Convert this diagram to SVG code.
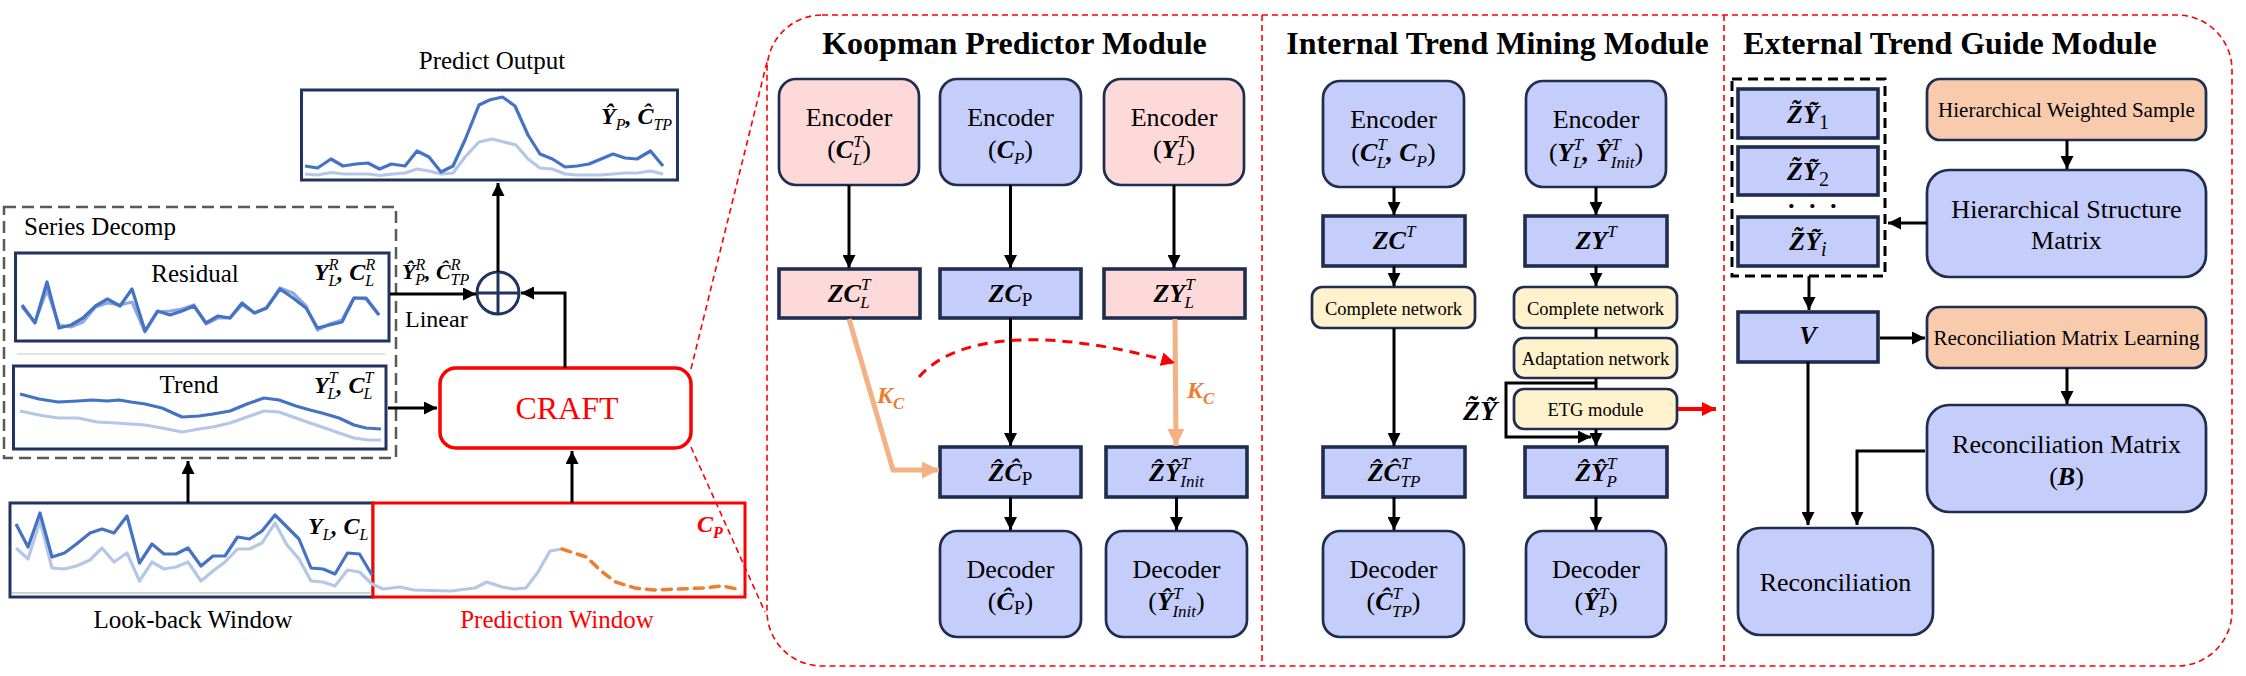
<svg xmlns="http://www.w3.org/2000/svg" width="2246" height="676" viewBox="0 0 2246 676">
<defs>
<style>
text{font-family:"Liberation Serif","Times New Roman","DejaVu Serif",serif;fill:#000}
.f24{font-size:24px}.f25{font-size:25px}.f26{font-size:26px}.f18{font-size:18.5px}.f21{font-size:21px}.f22{font-size:22px}
.title{font-size:32px;font-weight:bold}
.bi{font-weight:bold;font-style:italic}
.it{font-style:italic}
.s{font-size:17px}
.s15{font-size:16px}
.pink{fill:#FDD9D9;stroke:#1F2D50;stroke-width:2.7}
.blue{fill:#C5CDFB;stroke:#1F2D50;stroke-width:2.7}
.pinkt{fill:#FDD9D9;stroke:#1F2D50;stroke-width:3.6}
.bluet{fill:#C5CDFB;stroke:#1F2D50;stroke-width:3.6}
.yel{fill:#FFF2CC;stroke:#1F2D50;stroke-width:2.7}
.peach{fill:#F8CBAD;stroke:#1F2D50;stroke-width:2.7}
.ln{fill:none;stroke:#000;stroke-width:3}
.arr{marker-end:url(#ah)}
.win{fill:#fff;stroke:#1F3560;stroke-width:3}
.dk{fill:none;stroke:#4472C4;stroke-width:3.2;stroke-linejoin:round}
.lt{fill:none;stroke:#B4C7E7;stroke-width:3.2;stroke-linejoin:round}
.md{fill:none;stroke:#8FAADC;stroke-width:3.2;stroke-linejoin:round}
.rdash{fill:none;stroke:#FF0000;stroke-width:1.6;stroke-dasharray:6 4}
.red{fill:#FF0000}
.org{fill:#ED7D31}
</style>
<marker id="ah" viewBox="0 0 10 10" refX="10" refY="5" markerUnits="userSpaceOnUse" markerWidth="13" markerHeight="13" orient="auto"><path d="M0,0 L10,5 L0,10 z" fill="#000"/></marker>
<marker id="aho" viewBox="0 0 10 10" refX="10" refY="5" markerUnits="userSpaceOnUse" markerWidth="17" markerHeight="17" orient="auto"><path d="M0,0 L10,5 L0,10 z" fill="#F4B183"/></marker>
<marker id="ahr" viewBox="0 0 10 10" refX="10" refY="5" markerUnits="userSpaceOnUse" markerWidth="14" markerHeight="14" orient="auto"><path d="M0,0 L10,5 L0,10 z" fill="#FF0000"/></marker>
</defs>
<rect width="2246" height="676" fill="#fff"/>

<g id="panel">
<rect x="767" y="15" width="1465" height="651" rx="55" fill="#FDF5F5" class="rdash"/>
<line x1="1262" y1="15" x2="1262" y2="666" class="rdash"/>
<line x1="1724" y1="15" x2="1724" y2="666" class="rdash"/>
<text class="title" x="1014.5" y="54" text-anchor="middle">Koopman Predictor Module</text>
<text class="title" x="1497.5" y="54" text-anchor="middle">Internal Trend Mining Module</text>
<text class="title" x="1950" y="54" text-anchor="middle">External Trend Guide Module</text>
</g>

<g id="predict-output">
<text class="f25" x="492" y="69" text-anchor="middle">Predict Output</text>
<rect class="win" x="301.5" y="90" width="376" height="90"/>
<polyline class="lt" points="305,174 317.5,175 331,172.5 344,174 368,174 380.5,175.5 392.5,174 405,173 417,169 429,171 441,174 453,173 465,157 479,142 492,139 504,142 516,145 528,159 540,168 552.5,169 565,174 577,175 601,175 625,173 637,173 650.5,171 663,174"/>
<polyline class="dk" points="305,166 317.5,168 331,159 343,166 356,164 368,163 379.5,169 391.5,164 405,166 417,151 429,157 441,172 453,166 465,140 479,105 489.5,100 502.5,97 515,106 528,135 540,154 552.5,159 565,167 577,166 589,164 601,159 613,154 625,158 637,159 650.5,151 663,166"/>
<text class="f24" x="601" y="124"><tspan class="bi">Ŷ</tspan><tspan class="s15 it" dy="6">P</tspan><tspan class="bi" dy="-6">, Ĉ</tspan><tspan class="s15 it" dy="6">TP</tspan></text>
</g>

<g id="series-decomp">
<rect x="4" y="207" width="392" height="251" fill="none" stroke="#595959" stroke-width="2.5" stroke-dasharray="12 6"/>
<text class="f25" x="24" y="235">Series Decomp</text>
<line x1="17" y1="354" x2="385" y2="354" stroke="#D9D9D9" stroke-width="1.5"/>
</g>

<g id="residual">
<rect class="win" x="15.5" y="253" width="373.5" height="88"/>
<text class="f25" x="195" y="282" text-anchor="middle">Residual</text>
<polyline class="md" points="22,307 35,322 47,290 59,325 71,327 83,322 95.5,307 107.5,303 120,305 132,302 145,332 157.5,312 170,311 182,309 194,305 206,324 218,318 230,318 242,305 254.5,313 266.5,308 280,288 293,293 306,306 317.5,330 329.5,324 342,320 354,298 366,299 379,315"/>
<polyline class="dk" points="22,305 35,323 47,282 59,328 71,325 83,318 95.5,306 107.5,299 120,306 132,289 145,331 157.5,311 170,315 182,311 194,306 206,323 218,316 230,318 242,303 254.5,313 266.5,308 280,289 293,298 306,308 317.5,328 329.5,325 342,322 354,298 366,298 379,315"/>
<text class="f24" x="314" y="280"><tspan class="bi">Y</tspan><tspan class="s15 it" dy="-10">R</tspan><tspan class="s15 it" dx="-10" dy="16">L</tspan><tspan class="bi" dy="-6">, C</tspan><tspan class="s15 it" dy="-10">R</tspan><tspan class="s15 it" dx="-10" dy="16">L</tspan></text>
</g>

<g id="trend">
<rect class="win" x="13.5" y="366" width="372.5" height="83"/>
<text class="f25" x="189" y="393" text-anchor="middle">Trend</text>
<polyline class="lt" points="20,411 39,415 58,418 78,418 97,422 116,423 131,424 145,425 162,428 182,432 199,429 213,427 230,423 247,417 264,411 279,412 296,418 310,423 322,427 339,433 354,438 368,440 381,440"/>
<polyline class="dk" points="20,394 39,399 58,402 78,401 92,400 107,401 119,400 131,402 145,404 162,408 182,417 199,416 213,414 230,411 247,404 264,398 279,400 296,406 310,410 322,413 339,418 354,425 366,428 381,429"/>
<text class="f24" x="314" y="393"><tspan class="bi">Y</tspan><tspan class="s15 it" dy="-10">T</tspan><tspan class="s15 it" dx="-10" dy="16">L</tspan><tspan class="bi" dy="-6">, C</tspan><tspan class="s15 it" dy="-10">T</tspan><tspan class="s15 it" dx="-10" dy="16">L</tspan></text>
</g>

<g id="lookback-window">
<rect class="win" x="10" y="503" width="363" height="94"/>
<line x1="12" y1="593" x2="372" y2="593" stroke="#D0D0D0" stroke-width="2"/>
<text class="f24" x="308" y="534"><tspan class="bi">Y</tspan><tspan class="s15 it" dy="6">L</tspan><tspan class="bi" dy="-6">, C</tspan><tspan class="s15 it" dy="6">L</tspan></text>
<text class="f25" x="193" y="628" text-anchor="middle">Look-back Window</text>
</g>

<g id="prediction-window">
<rect x="373" y="503" width="372" height="94" fill="#fff" stroke="#FF0000" stroke-width="3"/>
<text class="f24 red" x="697" y="532"><tspan class="bi red">C</tspan><tspan class="s15 bi red" dy="6">P</tspan></text>
<text class="f25 red" x="557" y="628" text-anchor="middle">Prediction Window</text>
</g>

<g id="series-lines">
<polyline class="lt" points="16,548 28,559 40,521 52,568 64.5,569 76.5,566 90,560 102,548 114,562 127,553 139.5,581 152,562 164,569 176,567 188,562 201,581 213,571 225,562 237.5,549 249.5,549 262,543 275,523 287,545 299,559 311,581 323,582 335,586 347.5,570 359.5,572 372,584 383,589 400,587 414,590 451,591 475,588 487,582 502,587 514,589 526,588 538,572 550,551 562,549"/>
<polyline class="dk" points="16,524 28,547 40,513 52,557 64.5,553 76.5,544 90,533 102,529 114,533 127,516 139.5,563 152,544 164,554 176,554 188,548 201,566 213,556 225,556 237.5,537 249.5,539 262,531 275,515 287,527 299,539 311,568 323,569 335,574 347.5,553 359.5,554 372,575"/>
<polyline points="562,549 586.5,557 601,571 615.5,582 635,588 654,590 678.5,589 703,588 722,586 737,589" fill="none" stroke="#ED7D31" stroke-width="3.5" stroke-dasharray="9 7" stroke-linecap="round"/>
</g>

<g id="craft">
<rect x="440" y="368" width="251" height="80" rx="16" fill="#fff" stroke="#FF0000" stroke-width="3.5"/>
<text x="567" y="419" font-size="32" class="red" text-anchor="middle">CRAFT</text>
</g>

<g id="plus">
<circle cx="498" cy="293" r="21" fill="#fff" stroke="#1F3560" stroke-width="3"/>
<path d="M477 293 H519 M498 272 V314" stroke="#1F3560" stroke-width="3"/>
</g>

<g id="left-labels">
<text class="f22" x="402" y="279"><tspan class="bi">Ŷ</tspan><tspan class="s15 it" dy="-9">R</tspan><tspan class="s15 it" dx="-10" dy="15">P</tspan><tspan class="bi" dy="-6">, Ĉ</tspan><tspan class="s15 it" dy="-9">R</tspan><tspan class="s15 it" dx="-10" dy="15">TP</tspan></text>
<text class="f24" x="405" y="327">Linear</text>
</g>

<g id="kp-enc1">
<rect class="pink" x="779" y="79" width="140" height="106" rx="17"/>
<text class="f26" x="849" y="126" text-anchor="middle">Encoder</text>
<text class="f26" x="849" y="158" text-anchor="middle">(<tspan class="bi">C</tspan><tspan class="s it" dy="-11">T</tspan><tspan class="s it" dx="-10" dy="18">L</tspan><tspan dy="-7">)</tspan></text>
</g>
<g id="kp-enc2">
<rect class="blue" x="940" y="79" width="141" height="106" rx="17"/>
<text class="f26" x="1010.5" y="126" text-anchor="middle">Encoder</text>
<text class="f26" x="1010.5" y="158" text-anchor="middle">(<tspan class="bi">C</tspan><tspan class="s it" dy="6">P</tspan><tspan dy="-6">)</tspan></text>
</g>
<g id="kp-enc3">
<rect class="pink" x="1104" y="79" width="140" height="106" rx="17"/>
<text class="f26" x="1174" y="126" text-anchor="middle">Encoder</text>
<text class="f26" x="1174" y="158" text-anchor="middle">(<tspan class="bi">Y</tspan><tspan class="s it" dy="-11">T</tspan><tspan class="s it" dx="-10" dy="18">L</tspan><tspan dy="-7">)</tspan></text>
</g>
<g id="kp-zc1">
<rect class="pinkt" x="779" y="269" width="141" height="49"/>
<text class="f26" x="849" y="302" text-anchor="middle"><tspan class="bi">ZC</tspan><tspan class="s it" dy="-12">T</tspan><tspan class="s it" dx="-10" dy="18">L</tspan></text>
</g>
<g id="kp-zc2">
<rect class="bluet" x="940" y="269" width="141" height="49"/>
<text class="f26" x="1010.5" y="302" text-anchor="middle"><tspan class="bi">ZC</tspan><tspan font-size="19" dy="4">P</tspan></text>
</g>
<g id="kp-zc3">
<rect class="pinkt" x="1104" y="269" width="141" height="49"/>
<text class="f26" x="1174" y="302" text-anchor="middle"><tspan class="bi">ZY</tspan><tspan class="s it" dy="-12">T</tspan><tspan class="s it" dx="-10" dy="18">L</tspan></text>
</g>
<g id="kp-zchat">
<rect class="bluet" x="940" y="447" width="141" height="50"/>
<text class="f26" x="1010.5" y="481" text-anchor="middle"><tspan class="bi">ẐĈ</tspan><tspan font-size="19" dy="4">P</tspan></text>
</g>
<g id="kp-zyhat">
<rect class="bluet" x="1106" y="447" width="141" height="50"/>
<text class="f26" x="1176.5" y="481" text-anchor="middle"><tspan class="bi">ẐŶ</tspan><tspan class="s it" dy="-12">T</tspan><tspan class="s it" dx="-10" dy="18">Init</tspan></text>
</g>
<g id="kp-dec1">
<rect class="blue" x="940" y="531" width="141" height="106" rx="17"/>
<text class="f26" x="1010.5" y="578" text-anchor="middle">Decoder</text>
<text class="f26" x="1010.5" y="610" text-anchor="middle">(<tspan class="bi">Ĉ</tspan><tspan font-size="19" dy="4">P</tspan><tspan dy="-4">)</tspan></text>
</g>
<g id="kp-dec2">
<rect class="blue" x="1106" y="531" width="141" height="106" rx="17"/>
<text class="f26" x="1176.5" y="578" text-anchor="middle">Decoder</text>
<text class="f26" x="1176.5" y="610" text-anchor="middle">(<tspan class="bi">Ŷ</tspan><tspan class="s it" dy="-11">T</tspan><tspan class="s it" dx="-10" dy="18">Init</tspan><tspan dy="-7">)</tspan></text>
</g>
<g id="kp-labels">
<text x="877" y="403" font-size="24" class="org"><tspan class="bi org">K</tspan><tspan class="bi org" font-size="17" dy="6">C</tspan></text>
<text x="1187" y="398" font-size="24" class="org"><tspan class="bi org">K</tspan><tspan class="bi org" font-size="17" dy="6">C</tspan></text>
</g>

<g id="itm-enc1">
<rect class="blue" x="1323" y="81" width="141" height="106" rx="17"/>
<text class="f26" x="1393.5" y="128" text-anchor="middle">Encoder</text>
<text class="f26" x="1393.5" y="161" text-anchor="middle">(<tspan class="bi">C</tspan><tspan class="s it" dy="-11">T</tspan><tspan class="s it" dx="-10" dy="18">L</tspan><tspan class="bi" dy="-7">, C</tspan><tspan class="s it" dy="6">P</tspan><tspan dy="-6">)</tspan></text>
</g>
<g id="itm-enc2">
<rect class="blue" x="1526" y="81" width="140" height="106" rx="17"/>
<text class="f26" x="1596" y="128" text-anchor="middle">Encoder</text>
<text class="f26" x="1596" y="161" text-anchor="middle">(<tspan class="bi">Y</tspan><tspan class="s it" dy="-11">T</tspan><tspan class="s it" dx="-10" dy="18">L</tspan><tspan class="bi" dy="-7">, Ŷ</tspan><tspan class="s it" dy="-11">T</tspan><tspan class="s it" dx="-10" dy="18">Init</tspan><tspan dy="-7">)</tspan></text>
</g>
<g id="itm-zc">
<rect class="bluet" x="1323" y="216" width="142" height="50"/>
<text class="f26" x="1394" y="249" text-anchor="middle"><tspan class="bi">ZC</tspan><tspan class="s it" dy="-12">T</tspan></text>
</g>
<g id="itm-zy">
<rect class="bluet" x="1525" y="216" width="142" height="50"/>
<text class="f26" x="1596" y="249" text-anchor="middle"><tspan class="bi">ZY</tspan><tspan class="s it" dy="-12">T</tspan></text>
</g>
<g id="itm-complete1">
<rect class="yel" x="1312" y="287" width="163" height="41" rx="10"/>
<text class="f18" x="1393.5" y="315" text-anchor="middle">Complete network</text>
</g>
<g id="itm-complete2">
<rect class="yel" x="1514" y="287" width="163" height="41" rx="10"/>
<text class="f18" x="1595.5" y="315" text-anchor="middle">Complete network</text>
</g>
<g id="itm-adapt">
<rect class="yel" x="1514" y="338" width="163" height="40" rx="10"/>
<text class="f18" x="1595.5" y="365" text-anchor="middle">Adaptation network</text>
</g>
<g id="itm-etg">
<rect class="yel" x="1514" y="389" width="163" height="40" rx="10"/>
<text class="f18" x="1595.5" y="416" text-anchor="middle">ETG module</text>
</g>
<g id="itm-zytilde-label">
<text x="1480" y="420" font-size="28" text-anchor="middle"><tspan class="bi">Z̃Ỹ</tspan></text>
</g>
<g id="itm-zchat">
<rect class="bluet" x="1323" y="447" width="142" height="50"/>
<text class="f26" x="1394" y="481" text-anchor="middle"><tspan class="bi">ẐĈ</tspan><tspan class="s it" dy="-12">T</tspan><tspan class="s it" dx="-10" dy="18">TP</tspan></text>
</g>
<g id="itm-zyhat">
<rect class="bluet" x="1525" y="447" width="142" height="50"/>
<text class="f26" x="1596" y="481" text-anchor="middle"><tspan class="bi">ẐŶ</tspan><tspan class="s it" dy="-12">T</tspan><tspan class="s it" dx="-10" dy="18">P</tspan></text>
</g>
<g id="itm-dec1">
<rect class="blue" x="1323" y="531" width="141" height="106" rx="17"/>
<text class="f26" x="1393.5" y="578" text-anchor="middle">Decoder</text>
<text class="f26" x="1393.5" y="610" text-anchor="middle">(<tspan class="bi">Ĉ</tspan><tspan class="s it" dy="-11">T</tspan><tspan class="s it" dx="-10" dy="18">TP</tspan><tspan dy="-7">)</tspan></text>
</g>
<g id="itm-dec2">
<rect class="blue" x="1526" y="531" width="140" height="106" rx="17"/>
<text class="f26" x="1596" y="578" text-anchor="middle">Decoder</text>
<text class="f26" x="1596" y="610" text-anchor="middle">(<tspan class="bi">Ŷ</tspan><tspan class="s it" dy="-11">T</tspan><tspan class="s it" dx="-10" dy="18">P</tspan><tspan dy="-7">)</tspan></text>
</g>

<g id="etg-group">
<rect x="1732" y="79" width="153" height="197" fill="none" stroke="#000" stroke-width="3" stroke-dasharray="10 6"/>
<rect class="bluet" x="1738" y="89" width="140" height="49"/>
<text class="f26" x="1808" y="123" text-anchor="middle"><tspan class="bi">Z̃Ỹ</tspan><tspan font-size="20" dy="6">1</tspan></text>
<rect class="bluet" x="1738" y="147" width="140" height="48"/>
<text class="f26" x="1808" y="180" text-anchor="middle"><tspan class="bi">Z̃Ỹ</tspan><tspan font-size="20" dy="6">2</tspan></text>
<text font-size="26" font-weight="bold" x="1787 1808 1829" y="214">···</text>
<rect class="bluet" x="1738" y="217" width="140" height="49"/>
<text class="f26" x="1808" y="250" text-anchor="middle"><tspan class="bi">Z̃Ỹ</tspan><tspan class="it" font-size="20" dy="6">i</tspan></text>
</g>
<g id="etg-hws">
<rect class="peach" x="1927" y="79" width="279" height="61" rx="13"/>
<text class="f21" x="2066.5" y="117" text-anchor="middle">Hierarchical Weighted Sample</text>
</g>
<g id="etg-hsm">
<rect class="blue" x="1927" y="170" width="279" height="107" rx="22"/>
<text class="f26" x="2066.5" y="218" text-anchor="middle">Hierarchical Structure</text>
<text class="f26" x="2066.5" y="249" text-anchor="middle">Matrix</text>
</g>
<g id="etg-v">
<rect class="bluet" x="1738" y="312" width="140" height="50"/>
<text class="f26" x="1808" y="344" text-anchor="middle"><tspan class="bi">V</tspan></text>
</g>
<g id="etg-rml">
<rect class="peach" x="1927" y="307" width="279" height="61" rx="13"/>
<text class="f21" x="2066.5" y="345" text-anchor="middle">Reconciliation Matrix Learning</text>
</g>
<g id="etg-rm">
<rect class="blue" x="1927" y="405" width="279" height="107" rx="22"/>
<text class="f26" x="2066.5" y="453" text-anchor="middle">Reconciliation Matrix</text>
<text class="f26" x="2066.5" y="485" text-anchor="middle">(<tspan class="bi">B</tspan>)</text>
</g>
<g id="etg-rec">
<rect class="blue" x="1738" y="528" width="195" height="107" rx="22"/>
<text class="f26" x="1835.5" y="591" text-anchor="middle">Reconciliation</text>
</g>

<g id="connectors">
<path class="ln arr" d="M188 503 V461"/>
<path class="ln arr" d="M572 503 V451"/>
<path class="ln arr" d="M388 408 H437"/>
<path class="ln arr" d="M565 368 V293 H521"/>
<path class="ln arr" d="M390 294 H476"/>
<path class="ln arr" d="M498 272 V183"/>
<path class="rdash" d="M691 369 L767 62"/>
<path class="rdash" d="M691 447 L765 612"/>

<path class="ln arr" d="M849 185 V268"/>
<path class="ln arr" d="M1010.5 185 V268"/>
<path class="ln arr" d="M1174 185 V268"/>
<path class="ln arr" d="M1010.5 318 V446"/>
<path class="ln arr" d="M1010.5 497 V530"/>
<path class="ln arr" d="M1176.5 497 V530"/>
<path d="M849 319 L893 470 H939" fill="none" stroke="#F4B183" stroke-width="5" stroke-linejoin="miter" marker-end="url(#aho)"/>
<path d="M1175 319 L1176 446" fill="none" stroke="#F4B183" stroke-width="5" marker-end="url(#aho)"/>
<path d="M919 377 C960 330 1060 330 1175 363" fill="none" stroke="#FF0000" stroke-width="3" stroke-dasharray="10 7" marker-end="url(#ahr)"/>

<path class="ln arr" d="M1394 187 V215"/>
<path class="ln arr" d="M1596 187 V215"/>
<path class="ln arr" d="M1394 266 V286"/>
<path class="ln arr" d="M1596 266 V286"/>
<path class="ln arr" d="M1394 328 V446"/>
<path class="ln" d="M1596 328 V338 M1596 378 V389"/>
<path class="ln arr" d="M1596 429 V446"/>
<path class="ln arr" d="M1596 383 H1506 V437 H1591"/>
<path d="M1678 409 H1716" fill="none" stroke="#FF0000" stroke-width="4" marker-end="url(#ahr)"/>
<path class="ln arr" d="M1394 497 V530"/>
<path class="ln arr" d="M1596 497 V530"/>

<path class="ln arr" d="M2067 140 V169"/>
<path class="ln arr" d="M1927 223 H1888"/>
<path class="ln arr" d="M1809 276 V310"/>
<path class="ln arr" d="M1880 338 H1925"/>
<path class="ln arr" d="M2067 368 V404"/>
<path class="ln arr" d="M1925 451 H1857 V525"/>
<path class="ln arr" d="M1808 362 V525"/>
</g>
</svg>
